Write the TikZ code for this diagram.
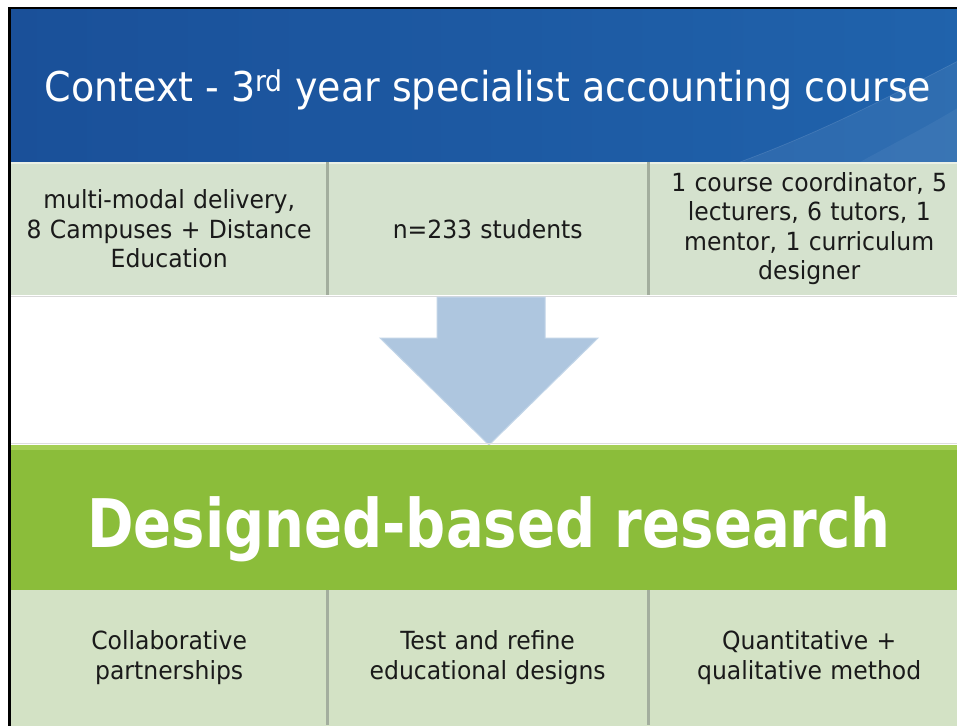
\documentclass[tikz,border=0pt]{standalone}
\usepackage{fontspec}
\setmainfont{DejaVu Sans Condensed}
\newfontfamily\titlefont[FakeStretch=1.03]{DejaVu Sans Condensed}
\newfontfamily\cellfont[FakeStretch=1.045]{DejaVu Sans Condensed}
\newfontfamily\bigfont[FakeStretch=0.93]{DejaVu Sans Condensed}
\definecolor{bandblueL}{HTML}{1A5099}
\definecolor{bandblueR}{HTML}{2063AC}
\definecolor{cellgreen}{HTML}{D5E2CE}
\definecolor{cellgreenB}{HTML}{D3E2C5}
\definecolor{bandgreen}{HTML}{8BBD3A}
\definecolor{bandgreenhi}{HTML}{A5CF55}
\definecolor{arrowblue}{HTML}{AEC6DF}
\definecolor{arrowedge}{HTML}{C2D5E8}
\definecolor{divider}{HTML}{A3AE9E}
\definecolor{celltext}{HTML}{1A1A1A}
\tikzset{
  cell/.style={draw=none, anchor=north west, inner sep=0pt, align=center,
    text=celltext, font=\cellfont\fontsize{25}{29.5}\selectfont},
  divline/.style={draw=divider, line width=2.5pt},
}
\begin{document}
\begin{tikzpicture}[x=1pt,y=-1pt]
\useasboundingbox (0,0) rectangle (957,725);
\fill[white] (0,0) rectangle (957,725);
% slide frame (left and top edges visible)
\fill[black] (8,7) rectangle (970,740);
\fill[white] (11,10) rectangle (970,740);

% blue header band
\shade[left color=bandblueL, right color=bandblueR] (11,10) rectangle (970,162);
\begin{scope}
  \clip (11,10) rectangle (970,162);
  \fill[white, opacity=0.07] (740,162) .. controls (840,125) and (910,85) .. (970,55) -- (970,162) -- cycle;
  \fill[white, opacity=0.05] (860,162) .. controls (900,140) and (940,120) .. (970,100) -- (970,162) -- cycle;
  \draw[white, opacity=0.12, line width=0.7pt] (740,162) .. controls (840,125) and (910,85) .. (970,55);
\end{scope}
\node[text=white, font=\titlefont\fontsize{41}{48}\selectfont, anchor=base] (title) at (488,101)
  {Context - 3\textsuperscript{rd} year specialist accounting course};

% first row of cells
\fill[cellgreen] (11,162) rectangle (970,295);
\draw[white, opacity=0.5, line width=1.2pt] (11,163) -- (970,163);
\node[cell, minimum width=316pt, minimum height=133pt, text width=310pt] (a1) at (11,162)
  {multi-modal delivery,\\8 Campuses + Distance\\Education};
\node[cell, minimum width=321pt, minimum height=133pt, text width=310pt] (a2) at (327,162)
  {n=233 students};
\node[cell, minimum width=322pt, minimum height=133pt, text width=310pt] (a3) at (648,162)
  {1 course coordinator, 5\\lecturers, 6 tutors, 1\\mentor, 1 curriculum\\designer};
\draw[divline] (a1.north east) -- (a1.south east);
\draw[divline] (a2.north east) -- (a2.south east);
\draw[black!15, line width=1.5pt] (11,296.5) -- (970,296.5);

% block arrow between the two bands
\coordinate (sL) at (437,297);
\coordinate (sR) at (545,297);
\coordinate (tip) at (489,445);
\fill[arrowblue, draw=arrowedge, line width=1pt, line join=miter]
  (sL) -- (sR) -- (545,338) -- (598,338) -- (tip) -- (380,338) -- (437,338) -- cycle;

% green band
\draw[black!13, line width=1.5pt] (11,443.5) -- (970,443.5);
\fill[bandgreen] (11,445) rectangle (970,590);
\fill[bandgreenhi] (11,445) rectangle (970,450);
\node[text=white, font=\bigfont\fontsize{67}{80}\selectfont\bfseries, anchor=base] (dbr) at (489,547)
  {Designed-based research};

% second row of cells
\fill[cellgreenB] (11,590) rectangle (970,740);
\node[cell, minimum width=316pt, minimum height=135pt, text width=310pt] (b1) at (11,590)
  {Collaborative\\partnerships};
\node[cell, minimum width=321pt, minimum height=135pt, text width=310pt] (b2) at (327,590)
  {Test and refine\\educational designs};
\node[cell, minimum width=322pt, minimum height=135pt, text width=310pt] (b3) at (648,590)
  {Quantitative +\\qualitative method};
\draw[divline] (b1.north east) -- (b1.south east);
\draw[divline] (b2.north east) -- (b2.south east);
\end{tikzpicture}
\end{document}
